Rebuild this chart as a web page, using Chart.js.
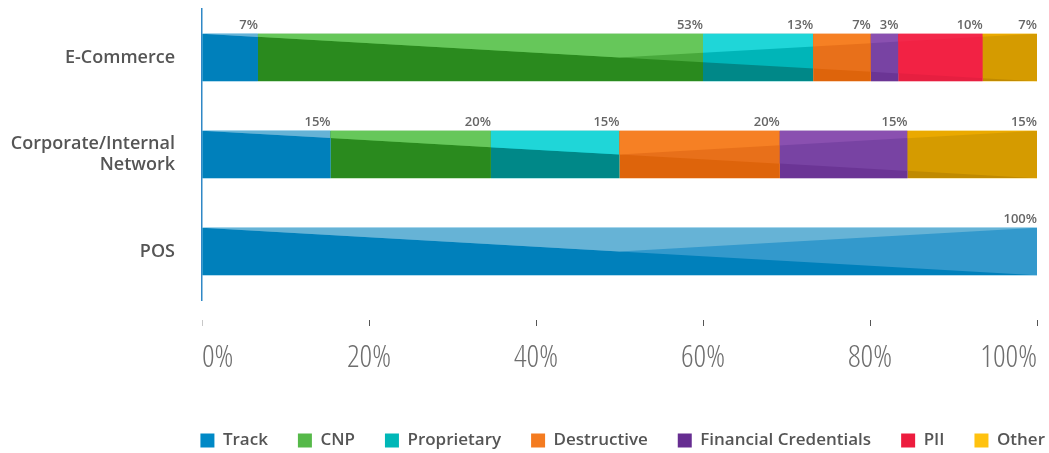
<!DOCTYPE html>
<html>
<head>
<meta charset="utf-8">
<script src="https://cdn.jsdelivr.net/npm/chart.js@4/dist/chart.umd.min.js"></script>
<style>
  html, body { margin: 0; padding: 0; background: #fff; }
  #wrap { width: 1049px; height: 453px; }
</style>
</head>
<body>
<div id="wrap"><canvas id="breachChart"></canvas></div>
<script>
// 値は画像から読み取り（%）
const rows = ['E-Commerce', ['Corporate/Internal', 'Network'], 'POS'];
const seriesNames = ['Track', 'CNP', 'Proprietary', 'Destructive', 'Financial Credentials', 'PII', 'Other'];

const track = [6.7, 15.4, 100];
const cnp = [53.3, 19.2, 0];
const proprietary = [13.2, 15.4, 0];
const destructive = [6.9, 19.2, 0];
const financial = [3.3, 15.3, 0];
const pii = [10.1, 0, 0];
const other = [6.5, 15.5, 0];

// バーの上に表示されるラベル
const labelsEcommerce = ['7%', '53%', '13%', '7%', '3%', '10%', '7%'];
const labelsCorporate = ['15%', '20%', '15%', '20%', '15%', '', '15%'];
const labelsPos = ['100%', '', '', '', '', '', ''];

const xTicks = [0, 20, 40, 60, 80, 100];

// 凡例の色と、バーの3トーン（暗・中・明）
const legendColors = ['#0089c6', '#56b949', '#00b7b7', '#f47b20', '#662d91', '#ed1c3e', '#ffc20f'];
const tones = [
  ['#0080bb', '#3399cc', '#66b3d6'],
  ['#2a8a1e', '#48a93c', '#66c75a'],
  ['#008888', '#00b5b8', '#1fd6d8'],
  ['#de640b', '#e8701a', '#f68024'],
  ['#6b3595', '#7843a3', '#8a50b0'],
  ['#e61f40', '#f22244', '#f3284a'],
  ['#c08a00', '#d59b00', '#eaa900']
];

const seriesValues = [track, cnp, proprietary, destructive, financial, pii, other];
const rowLabels = [labelsEcommerce, labelsCorporate, labelsPos];

// 斜めの陰影を描くプラグイン
const shadePlugin = {
  id: 'shade',
  afterDatasetsDraw(chart) {
    const { ctx, scales: { x } } = chart;
    const x0 = x.getPixelForValue(0);
    const x1 = x.getPixelForValue(100);
    const xm = x.getPixelForValue(50);

    chart.data.datasets.forEach((ds, i) => {
      const meta = chart.getDatasetMeta(i);
      if (meta.hidden) return;
      meta.data.forEach((bar, j) => {
        const p = bar.getProps(['x', 'y', 'base', 'height'], true);
        if (p.x - p.base < 0.5) return;
        const top = p.y - p.height / 2;
        const bot = p.y + p.height / 2;
        const t = tones[i];

        ctx.save();
        ctx.beginPath();
        ctx.rect(p.base, top, p.x - p.base, p.height);
        ctx.clip();
        ctx.fillStyle = t[0];
        ctx.fillRect(p.base, top, p.x - p.base, p.height);

        ctx.fillStyle = t[1];
        ctx.beginPath();
        ctx.moveTo(x0, top); ctx.lineTo(x1, top); ctx.lineTo(x1, bot);
        ctx.closePath(); ctx.fill();

        ctx.fillStyle = t[2];
        ctx.beginPath();
        ctx.moveTo(x0, top); ctx.lineTo(x1, top); ctx.lineTo(xm, p.y);
        ctx.closePath(); ctx.fill();
        ctx.restore();

        // 上のラベル
        const txt = rowLabels[j][i];
        if (txt) {
          ctx.save();
          ctx.font = '600 13px "Open Sans"';
          ctx.fillStyle = '#666';
          ctx.textAlign = 'right';
          ctx.textBaseline = 'alphabetic';
          ctx.fillText(txt, p.x, top - 5);
          ctx.restore();
        }
      });
    });
  }
};

function renderChart() {
  const ctx = document.getElementById('breachChart').getContext('2d');

  new Chart(ctx, {
    type: 'bar',
    data: {
      labels: rows,
      datasets: seriesNames.map((name, i) => ({
        label: name,
        data: seriesValues[i],
        backgroundColor: legendColors[i],
        borderWidth: 0,
        barPercentage: 0.98,
        categoryPercentage: 0.5
      }))
    },
    options: {
      indexAxis: 'y',
      responsive: true,
      maintainAspectRatio: false,
      animation: false,
      layout: {
        padding: { top: 9, right: -26, bottom: 4, left: 0 }
      },
      scales: {
        x: {
          stacked: true,
          min: 0,
          max: 100,
          afterBuildTicks: scale => {
            scale.ticks = xTicks.map(v => ({ value: v }));
          },
          afterFit: scale => {
            scale.height = 102;
            scale.paddingRight = 12;
          },
          border: { display: false },
          grid: {
            drawOnChartArea: false,
            tickLength: 26,
            tickBorderDash: [0, 20, 6, 200],
            tickColor: c => (c.index === 0 ? '#c8c8c8' : '#555'),
            tickWidth: 1
          },
          ticks: {
            align: 'inner',
            padding: 14,
            color: '#6e6e6e',
            font: { family: '"Open Sans"', size: 31, weight: '300 semi-condensed' },
            callback: v => v + '%'
          }
        },
        y: {
          stacked: true,
          afterFit: scale => {
            scale.width = 202;
            scale.paddingTop = 0;
            scale.paddingBottom = 0;
          },
          grid: { display: false },
          border: { display: true, color: '#2f88c6', width: 1.5 },
          ticks: {
            padding: 19,
            color: '#555',
            font: { family: '"Open Sans"', size: 18, weight: '600', lineHeight: 1.2 }
          }
        }
      },
      plugins: {
        legend: {
          position: 'bottom',
          align: 'end',
          maxHeight: 47,
          labels: {
            boxWidth: 14,
            boxHeight: 14,
            padding: 30,
            color: '#555',
            font: { family: '"Open Sans"', size: 17, weight: '600' }
          }
        },
        tooltip: { enabled: false }
      }
    },
    plugins: [shadePlugin]
  });
}

document.addEventListener('DOMContentLoaded', renderChart);
</script>
</body>
</html>
